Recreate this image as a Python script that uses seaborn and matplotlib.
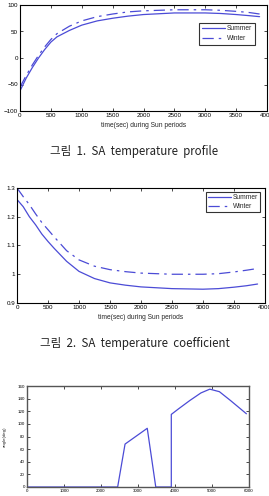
import numpy as np
import pandas as pd
import matplotlib
matplotlib.use("Agg")
import matplotlib.pyplot as plt
import seaborn as sns

# data
time_sec = [0, 100, 200, 300, 400, 500, 600, 800, 1000, 1250, 1500, 1750,
            2000, 2500, 3000, 3250, 3500, 3700, 3880]
temp_summer = [-62, -38, -18, 0, 16, 30, 40, 52, 62, 70, 75, 79,
               82, 85, 85, 84, 82, 80, 78]
temp_winter = [-55, -33, -13, 5, 21, 35, 46, 60, 70, 78, 83, 87,
               89, 91, 91, 90, 88, 86, 83]
coef_summer = [1.26, 1.235, 1.2, 1.172, 1.14, 1.114, 1.09, 1.045, 1.01, 0.985, 0.97, 0.962,
               0.956, 0.95, 0.948, 0.95, 0.955, 0.96, 0.966]
coef_winter = [1.3, 1.27, 1.242, 1.21, 1.18, 1.155, 1.13, 1.082, 1.05, 1.028, 1.016, 1.009,
               1.004, 1.0, 1.0, 1.002, 1.008, 1.014, 1.02]
angle_time = [0, 2450, 2650, 3250, 3480, 3900, 3900, 4100, 4400, 4700, 4940, 5200, 5500, 5930]
angle_deg = [0, 0, 68, 93, 0, 0, 115, 124, 137, 149, 155, 151, 137, 116]

captions = ["그림 1. SA temperature profile", "그림 2. SA temperature coefficient"]
xlabel = "time(sec) during Sun periods"

sns.set_style("ticks")
plt.rcParams['font.family'] = ['Liberation Sans', 'DejaVu Sans']

blue = "#4b4bd6"
W, H = 269, 496
fig = plt.figure(figsize=(W / 100, H / 100), dpi=100)


def px_axes(left, top, right, bottom):
    return fig.add_axes([left / W, 1 - bottom / H, (right - left) / W, (bottom - top) / H])


def matlab_style(ax, lw=0.8, color="black", size=4.5):
    for s in ax.spines.values():
        s.set_visible(True)
        s.set_linewidth(lw)
        s.set_color(color)
    ax.tick_params(direction="in", top=True, right=True, length=2, width=0.5,
                   labelsize=size, pad=1.5, colors="black")


df1 = pd.DataFrame({"t": time_sec, "Summer": temp_summer, "Winter": temp_winter})
df2 = pd.DataFrame({"t": time_sec, "Summer": coef_summer, "Winter": coef_winter})
df3 = pd.DataFrame({"t": angle_time, "angle": angle_deg})

dash = (0, (9, 4, 2, 4))

# panel 1
ax1 = px_axes(20, 5, 267, 111)
sns.lineplot(data=df1, x="t", y="Summer", ax=ax1, color=blue, lw=0.9, label="Summer")
sns.lineplot(data=df1, x="t", y="Winter", ax=ax1, color=blue, lw=0.9, linestyle=dash, label="Winter")
ax1.set_xlim(0, 4000)
ax1.set_ylim(-100, 100)
ax1.set_xticks(np.arange(0, 4001, 500))
ax1.set_yticks(np.arange(-100, 101, 50))
ax1.set_xlabel(xlabel, fontsize=4.8, labelpad=3)
ax1.set_ylabel("")
matlab_style(ax1)
leg = ax1.legend(loc="center right", bbox_to_anchor=(0.965, 0.73), fontsize=4.8,
                 frameon=True, fancybox=False, edgecolor="black", handlelength=3.5,
                 borderpad=0.4, labelspacing=0.4, handletextpad=0.3)
leg.get_frame().set_linewidth(0.8)

# panel 2
ax2 = px_axes(17, 188, 265, 303)
sns.lineplot(data=df2, x="t", y="Summer", ax=ax2, color=blue, lw=0.9, label="Summer")
sns.lineplot(data=df2, x="t", y="Winter", ax=ax2, color=blue, lw=0.9, linestyle=dash, label="Winter")
ax2.set_xlim(0, 4000)
ax2.set_ylim(0.9, 1.3)
ax2.set_xticks(np.arange(0, 4001, 500))
ax2.set_yticks([0.9, 1.0, 1.1, 1.2, 1.3])
ax2.set_yticklabels(["0.9", "1", "1.1", "1.2", "1.3"])
ax2.set_xlabel(xlabel, fontsize=4.8, labelpad=3)
ax2.set_ylabel("")
matlab_style(ax2)
leg = ax2.legend(loc="upper right", bbox_to_anchor=(0.995, 0.995), fontsize=4.8,
                 frameon=True, fancybox=False, edgecolor="black", handlelength=3.5,
                 borderpad=0.3, labelspacing=0.3, handletextpad=0.3)
leg.get_frame().set_linewidth(0.8)

# panel 3
ax3 = px_axes(27, 386, 249, 487)
sns.lineplot(data=df3, x="t", y="angle", ax=ax3, color=blue, lw=0.9,
             estimator=None, sort=False)
ax3.set_xlim(0, 6000)
ax3.set_ylim(0, 160)
ax3.set_xticks(np.arange(0, 6001, 1000))
ax3.set_yticks(np.arange(0, 161, 20))
ax3.set_xlabel("")
ax3.set_ylabel("angle(deg)", fontsize=3.2, labelpad=8)
matlab_style(ax3, lw=1.0, color="#555555", size=3.2)

for y, txt in zip([152, 343], captions):
    fig.text(0.5, 1 - y / H, txt.replace(" ", "  "), ha="center", va="center", fontsize=8.3,
             family=["Noto Sans CJK KR", "DejaVu Sans"], color="#222222")

fig.savefig("out.png", dpi=100)
